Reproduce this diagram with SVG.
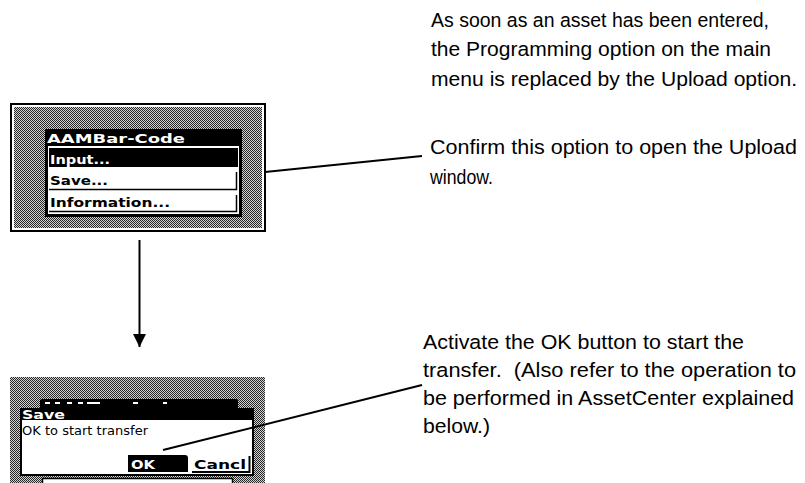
<svg xmlns="http://www.w3.org/2000/svg" width="805" height="483" viewBox="0 0 805 483">
  <style>
    .note { font-family: "Liberation Sans", Arial, sans-serif; font-size: 20.5px; fill: #000; }
    .lcd { font-family: "DejaVu Sans", "Liberation Sans", sans-serif; font-size: 12px; font-weight: bold; }
    .lcd-thin { font-family: "DejaVu Sans", "Liberation Sans", sans-serif; font-size: 11.5px; }
    .wire { stroke: #000; stroke-width: 2; fill: none; }
  </style>
  <defs>
    <!-- dithered grey backdrop of the handheld screen -->
    <pattern id="dither" width="2" height="2" patternUnits="userSpaceOnUse">
      <rect width="2" height="2" fill="#d2d2d2"/>
      <rect x="0" y="0" width="1" height="1" fill="#262626"/>
      <rect x="1" y="1" width="1" height="1" fill="#262626"/>
    </pattern>
    <marker id="arrowhead" markerUnits="userSpaceOnUse" markerWidth="14" markerHeight="14" refX="13" refY="6.5" orient="auto">
      <path d="M0,0 L13,6.5 L0,13 z" fill="#000"/>
    </marker>
  </defs>

  <rect width="805" height="483" fill="#fff"/>

  <!-- main menu screen -->
  <g id="menu-screen">
    <rect x="11" y="104" width="254" height="127" fill="#fff" stroke="#000" stroke-width="2"/>
    <rect x="14" y="107" width="248" height="121" fill="url(#dither)"/>
    <rect x="45" y="129" width="197" height="88" fill="#000"/>
    <rect x="48" y="146" width="191" height="68" fill="#fff"/>
    <rect x="49" y="148" width="189" height="19" fill="#000"/>
    <path d="M49,189.5 H236.5 V172" stroke="#000" stroke-width="1.5" fill="none"/>
    <path d="M49,211.5 H236.5 V195" stroke="#000" stroke-width="1.5" fill="none"/>
    <text class="lcd" x="47" y="143" fill="#fff" textLength="138" lengthAdjust="spacingAndGlyphs">AAMBar-Code</text>
    <text class="lcd" x="50" y="164" fill="#fff" textLength="60" lengthAdjust="spacingAndGlyphs">Input...</text>
    <text class="lcd" x="50" y="185" fill="#000" textLength="58" lengthAdjust="spacingAndGlyphs">Save...</text>
    <text class="lcd" x="50" y="207" fill="#000" textLength="120" lengthAdjust="spacingAndGlyphs">Information...</text>
  </g>

  <!-- upload confirmation dialog -->
  <g id="save-dialog">
    <rect x="10" y="377" width="255" height="106" fill="url(#dither)"/>
    <path d="M40,408 V401 Q40,399 42,399 H236 Q238,399 238,401 V408 z" fill="#000"/>
    <g fill="#fff">
      <rect x="45" y="402" width="5" height="2"/>
      <rect x="55" y="402" width="5" height="2"/>
      <rect x="67" y="402" width="5" height="2"/>
      <rect x="78" y="402" width="5" height="2"/>
      <rect x="87" y="402" width="13" height="2"/>
      <rect x="133" y="402" width="5" height="2"/>
      <rect x="163" y="402" width="4" height="2"/>
    </g>
    <rect x="20" y="408" width="234" height="12" fill="#000"/>
    <rect x="22" y="420" width="230" height="54" fill="#fff"/>
    <rect x="20" y="420" width="2" height="56" fill="#000"/>
    <rect x="252" y="420" width="2" height="56" fill="#000"/>
    <rect x="20" y="474" width="234" height="2" fill="#000"/>
    <rect x="42.5" y="478.5" width="190" height="8" fill="#fff" stroke="#000" stroke-width="1.5"/>
    <text class="lcd" x="22" y="418.5" fill="#fff" textLength="43" lengthAdjust="spacingAndGlyphs">Save</text>
    <text class="lcd-thin" x="22" y="435" fill="#000" textLength="126" lengthAdjust="spacingAndGlyphs">OK to start transfer</text>
    <path d="M128,455 H185 Q188,455 188,458 V472 H128 z" fill="#000"/>
    <text class="lcd" x="131" y="469" fill="#fff" textLength="24" lengthAdjust="spacingAndGlyphs">OK</text>
    <text class="lcd" x="194" y="469" fill="#000" textLength="52" lengthAdjust="spacingAndGlyphs">Cancl</text>
    <path d="M192,472 H249.5 V456" stroke="#000" stroke-width="2" fill="none"/>
  </g>

  <!-- callout texts -->
  <g id="note-upload">
    <text class="note" x="431" y="27" textLength="338" lengthAdjust="spacingAndGlyphs">As soon as an asset has been entered,</text>
    <text class="note" x="431" y="56" textLength="340" lengthAdjust="spacingAndGlyphs">the Programming option on the main</text>
    <text class="note" x="431" y="86" textLength="366" lengthAdjust="spacingAndGlyphs">menu is replaced by the Upload option.</text>
  </g>
  <g id="note-confirm">
    <text class="note" x="430" y="154" textLength="367" lengthAdjust="spacingAndGlyphs">Confirm this option to open the Upload</text>
    <text class="note" x="430" y="184" textLength="63" lengthAdjust="spacingAndGlyphs">window.</text>
  </g>
  <g id="note-ok">
    <text class="note" x="423" y="349" textLength="321" lengthAdjust="spacingAndGlyphs">Activate the OK button to start the</text>
    <text class="note" x="423" y="377" textLength="373" lengthAdjust="spacingAndGlyphs" xml:space="preserve">transfer.  (Also refer to the operation to</text>
    <text class="note" x="423" y="405" textLength="371" lengthAdjust="spacingAndGlyphs">be performed in AssetCenter explained</text>
    <text class="note" x="423" y="433" textLength="67" lengthAdjust="spacingAndGlyphs">below.)</text>
  </g>

  <!-- connectors -->
  <g id="connectors">
    <line class="wire" x1="265" y1="172" x2="422" y2="156"/>
    <line class="wire" x1="139.5" y1="240" x2="139.5" y2="347" marker-end="url(#arrowhead)"/>
    <line class="wire" x1="163" y1="450" x2="422" y2="385"/>
  </g>
</svg>
